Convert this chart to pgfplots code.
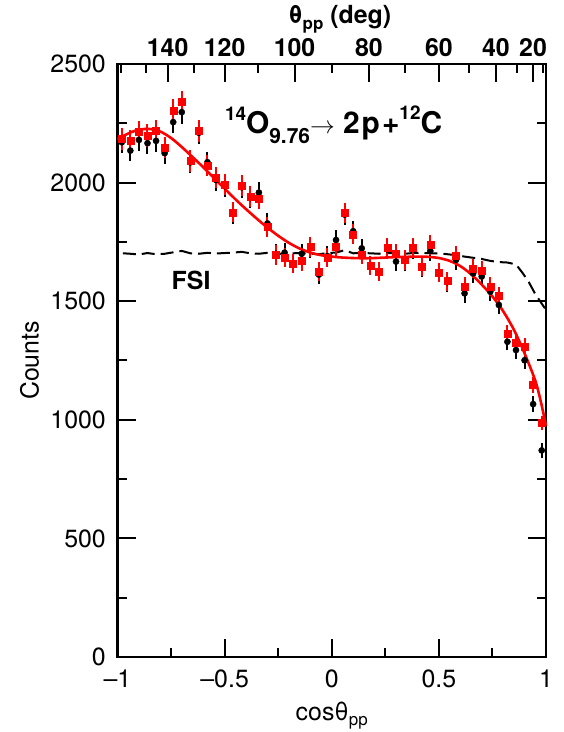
\documentclass[border=0pt]{standalone}
\usepackage{pgfplots}
\usepackage{pgfplotstable}
\pgfplotsset{compat=1.18}
\usepackage{fontspec}
\setmainfont{TeX Gyre Heros}

\pgfplotstableread{
x yr er yb eb
-0.98 2183 46 2170 46
-0.94 2176 46 2135 46
-0.90 2213 47 2180 46
-0.86 2199 47 2166 46
-0.82 2218 47 2176 46
-0.78 2148 46 2124 46
-0.74 2304 48 2255 47
-0.70 2340 48 2297 48
-0.66 2092 46 2085 46
-0.62 2218 47 2210 47
-0.58 2072 45 2086 45
-0.54 2021 45 2011 45
-0.50 1993 45 1985 45
-0.46 1875 43 1870 43
-0.42 1986 44 1980 44
-0.38 1941 44 1935 44
-0.34 1931 44 1958 44
-0.30 1812 43 1828 43
-0.26 1695 41 1700 41
-0.22 1685 41 1705 41
-0.18 1660 41 1660 41
-0.14 1670 41 1700 41
-0.10 1730 42 1725 42
-0.06 1626 40 1612 40
-0.02 1684 41 1690 41
0.02 1730 42 1758 42
0.06 1871 43 1865 43
0.10 1782 42 1795 42
0.14 1698 41 1723 41
0.18 1650 41 1650 41
0.22 1625 40 1625 40
0.26 1726 42 1718 41
0.30 1702 41 1667 41
0.34 1674 41 1670 41
0.38 1726 42 1720 41
0.42 1646 41 1640 40
0.46 1737 42 1712 41
0.50 1622 40 1620 40
0.54 1585 40 1580 40
0.58 1692 41 1674 41
0.62 1561 40 1533 39
0.66 1638 40 1617 40
0.70 1629 40 1604 40
0.74 1561 40 1540 39
0.78 1522 39 1484 39
0.82 1362 37 1329 36
0.86 1324 36 1294 36
0.90 1308 36 1251 35
0.94 1146 34 1066 33
0.98 986 31 871 30
}\pts

\pgfplotstableread{
x y
-1.00 2183
-0.95 2207
-0.90 2223
-0.85 2226
-0.80 2215
-0.75 2188
-0.70 2150
-0.65 2108
-0.60 2065
-0.55 2020
-0.50 1975
-0.45 1930
-0.40 1888
-0.35 1848
-0.30 1810
-0.25 1776
-0.20 1746
-0.15 1722
-0.10 1705
-0.05 1694
0.00 1688
0.05 1684
0.10 1682
0.15 1681
0.20 1682
0.25 1684
0.30 1686
0.35 1687
0.40 1688
0.45 1687
0.50 1682
0.55 1670
0.60 1648
0.65 1614
0.70 1570
0.75 1520
0.80 1458
0.85 1380
0.90 1280
0.95 1165
0.975 1080
1.00 975
}\fit

\pgfplotstableread{
x y
-0.975 1702
-0.94 1700
-0.90 1697
-0.86 1703
-0.82 1698
-0.78 1700
-0.74 1706
-0.70 1712
-0.66 1702
-0.62 1700
-0.58 1704
-0.54 1701
-0.50 1703
-0.46 1705
-0.42 1708
-0.38 1702
-0.34 1700
-0.30 1704
-0.26 1702
-0.22 1698
-0.18 1702
-0.14 1703
-0.10 1700
-0.06 1698
-0.02 1703
0.02 1705
0.06 1715
0.10 1702
0.14 1703
0.18 1702
0.22 1700
0.26 1703
0.30 1702
0.34 1700
0.38 1703
0.42 1704
0.46 1702
0.50 1702
0.54 1698
0.58 1694
0.62 1688
0.66 1683
0.70 1678
0.74 1670
0.78 1665
0.82 1663
0.86 1655
0.89 1620
0.92 1580
0.95 1530
0.98 1490
0.995 1470
}\fsi

\begin{document}
\begin{tikzpicture}
\useasboundingbox (-117.5bp,-75bp) rectangle (446.5bp,657bp);
\begin{axis}[
  at={(0,0)}, anchor=south west,
  scale only axis, width=428.5bp, height=593bp,
  xmin=-1, xmax=1, ymin=0, ymax=2500,
  xtick={-1,-0.5,0,0.5,1}, xticklabels={–1,–0.5,0,0.5,1},
  minor xtick={-0.75,-0.25,0.25,0.75},
  ytick={0,500,1000,1500,2000,2500}, yticklabels={0,500,1000,1500,2000,2500},
  minor ytick={250,750,1250,1750,2250},
  xtick pos=bottom,
  tick align=inside,
  major tick length=18bp, minor tick length=9bp,
  every tick/.style={black, line width=2bp},
  axis line style={line width=2.4bp},
  ticklabel style={font=\fontsize{25}{25}\selectfont, inner sep=0pt},
  xticklabel style={yshift=-13bp},
  yticklabel style={xshift=-11.5bp},
  xlabel={cosθ\raisebox{-5bp}{\fontsize{17}{17}\selectfont pp}},
  ylabel={Counts},
  label style={font=\fontsize{25}{25}\selectfont},
  xlabel style={at={(axis description cs:0.5,-0.107)}, anchor=base},
  ylabel style={at={(axis description cs:-0.2054,0.5)}, anchor=center},
  clip=false,
]
\addplot[black, line width=2bp, dash pattern=on 13bp off 6bp] table[x=x,y=y] {\fsi};
\addplot[only marks, mark=*, mark size=3.1bp, black,
  error bars/.cd, y dir=both, y explicit, error mark=none,
  error bar style={line width=2bp, black}]
  table[x=x, y=yb, y error=eb] {\pts};
\addplot[only marks, mark=square*, mark size=3.5bp, red,
  error bars/.cd, y dir=both, y explicit, error mark=none,
  error bar style={line width=2bp, red}]
  table[x=x, y=yr, y error=er] {\pts};
\addplot[red, line width=2.6bp, smooth] table[x=x,y=y] {\fit};
\node[anchor=base west, inner sep=0pt, font=\bfseries\fontsize{30}{30}\selectfont]
  at (axis cs:-0.499,2208)
  {\raisebox{13bp}{\fontsize{19}{19}\selectfont 14}O\raisebox{-10bp}{\fontsize{21}{21}\selectfont 9.76}$\rightarrow$ 2\hspace{2bp}p\hspace{2bp}+\raisebox{14bp}{\fontsize{19}{19}\selectfont 12}C};
\node[anchor=base west, inner sep=0pt, font=\bfseries\fontsize{25}{25}\selectfont]
  at (axis cs:-0.748,1550) {FSI};
\end{axis}
\begin{axis}[
  at={(0,0)}, anchor=south west,
  scale only axis, width=428.5bp, height=593bp,
  xmin=-1, xmax=1, ymin=0, ymax=2500,
  axis x line*=top, axis y line=none,
  xtick={-0.76604,-0.5,-0.17365,0.17365,0.5,0.76604,0.93969},
  xticklabels={140,120,100,80,60,40,20},
  minor xtick={-0.98481,-0.86603,-0.64279,-0.34202,0,0.34202,0.64279,0.86603,0.98481},
  tick align=inside,
  major tick length=18bp, minor tick length=9bp,
  every tick/.style={black, line width=2bp},
  axis line style={line width=2.4bp},
  xticklabel style={font=\bfseries\fontsize{25}{25}\selectfont, inner sep=0pt, anchor=south, yshift=7bp},
  xlabel={θ\raisebox{-6bp}{\fontsize{17}{17}\selectfont pp} (deg)},
  xlabel style={font=\bfseries\fontsize{25}{25}\selectfont, at={(axis description cs:0.519,1.0691)}, anchor=base},
]
\end{axis}
\end{tikzpicture}
\end{document}
